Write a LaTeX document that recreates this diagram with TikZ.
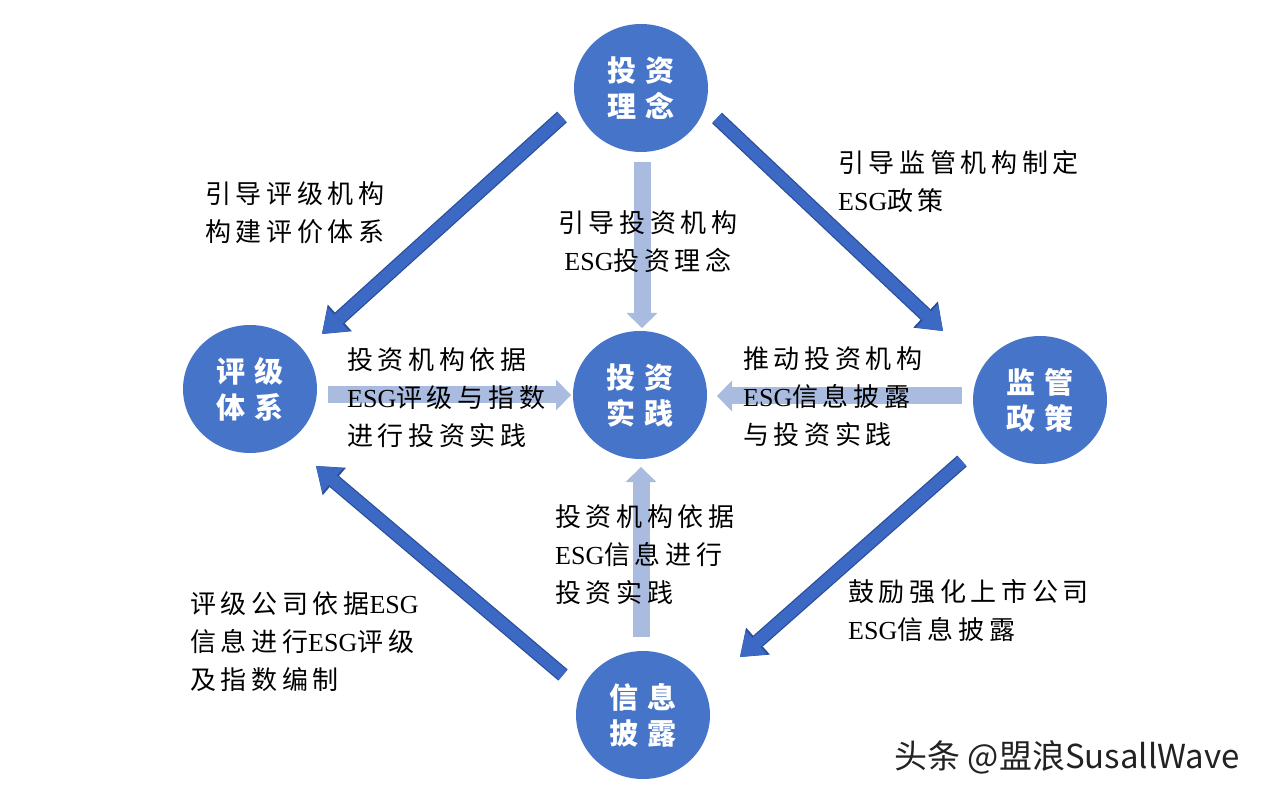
\documentclass[tikz,border=0pt]{standalone}
\usepackage{fontspec}
\newfontfamily\cjk[LetterSpace=18]{Noto Sans CJK SC}
\newfontfamily\hubcjk[LetterSpace=28]{Noto Sans CJK SC}
\newfontfamily\markcjk{Noto Sans CJK SC}
\newfontfamily\esgfont{Liberation Serif}
\newcommand\esg{{\esgfont ESG}}
\usepackage{tikz}
\usetikzlibrary{arrows.meta, shapes.geometric}
\definecolor{hubblue}{HTML}{4674C8}
\definecolor{leadblue}{HTML}{3C69C3}
\definecolor{leadedge}{HTML}{2A4E9C}
\definecolor{feedblue}{HTML}{A9BCE0}
\definecolor{marktext}{HTML}{222222}

\begin{document}
\begin{tikzpicture}[
  x=1pt, y=-1pt,
  hub/.style={ellipse, fill=hubblue, minimum width=134pt, minimum height=128pt,
              inner sep=0pt, text=white, align=center,
              font=\hubcjk\bfseries\fontsize{29}{36}\selectfont},
  lead/.style={line width=12pt, draw=leadblue,
               -{Triangle[length=22pt, width=32pt, line width=0pt]},
               preaction={draw=leadedge, line width=14.5pt,
               -{Triangle[length=24pt, width=36pt, line width=0pt]}}},
  feed/.style={line width=17pt, draw=feedblue,
               -{Triangle[length=15pt, width=31pt, line width=0pt]}},
  note/.style={font=\cjk\fontsize{26}{38}\selectfont, align=left,
               anchor=west, inner sep=0pt},
]
\useasboundingbox (0,0) rectangle (1262,794);

\node[hub] (idea) at (641,88)  {投资\\理念};
\node[hub] (rate) at (250,389) {评级\\体系};
\node[hub] (prac) at (640,395) {投资\\实践};
\node[hub] (rule) at (1040,400) {监管\\政策};
\node[hub] (disc) at (643,715) {信息\\披露};

\coordinate (idea-s)  at (642,162);
\coordinate (prac-n)  at (642,328);
\coordinate (rate-e)  at (328,395);
\coordinate (prac-w)  at (571,395);
\coordinate (rule-w)  at (962,396);
\coordinate (prac-e)  at (717,396);
\coordinate (disc-n)  at (641,637);
\coordinate (prac-s)  at (641,467);

\coordinate (idea-sw) at (562,117);
\coordinate (rate-ne) at (322,334);
\coordinate (idea-se) at (717,118);
\coordinate (rule-nw) at (943,331);
\coordinate (disc-nw) at (563,675);
\coordinate (rate-se) at (316,466);
\coordinate (rule-sw) at (962,461);
\coordinate (disc-ne) at (740,657);

\draw[feed] (idea-s) -- (prac-n);
\draw[feed] (rate-e) -- (prac-w);
\draw[feed] (rule-w) -- (prac-e);
\draw[feed] (disc-n) -- (prac-s);

\draw[lead] (idea-sw) -- (rate-ne);
\draw[lead] (idea-se) -- (rule-nw);
\draw[lead] (disc-nw) -- (rate-se);
\draw[lead] (rule-sw) -- (disc-ne);

\node[note] (t1) at (205,213) {引导评级机构\\构建评价体系};
\node[note] (t2) at (838,182) {引导监管机构制定\\\esg 政策};
\node[note, align=center, anchor=center] (t3) at (648,242) {引导投资机构\\\esg 投资理念};
\node[note] (t4) at (347,398) {投资机构依据\\\esg 评级与指数\\进行投资实践};
\node[note] (t5) at (743,397) {推动投资机构\\\esg 信息披露\\与投资实践};
\node[note] (t6) at (555,555) {投资机构依据\\\esg 信息进行\\投资实践};
\node[note] (t7) at (190,642) {评级公司依据\esg\\信息进行\esg 评级\\及指数编制};
\node[note] (t8) at (848,611) {鼓励强化上市公司\\\esg 信息披露};

\node[anchor=east, inner sep=0pt, text=marktext,
      font=\markcjk\fontsize{33}{38}\selectfont] (mark) at (1240,757) {头条 @盟浪SusallWave};
\end{tikzpicture}
\end{document}
